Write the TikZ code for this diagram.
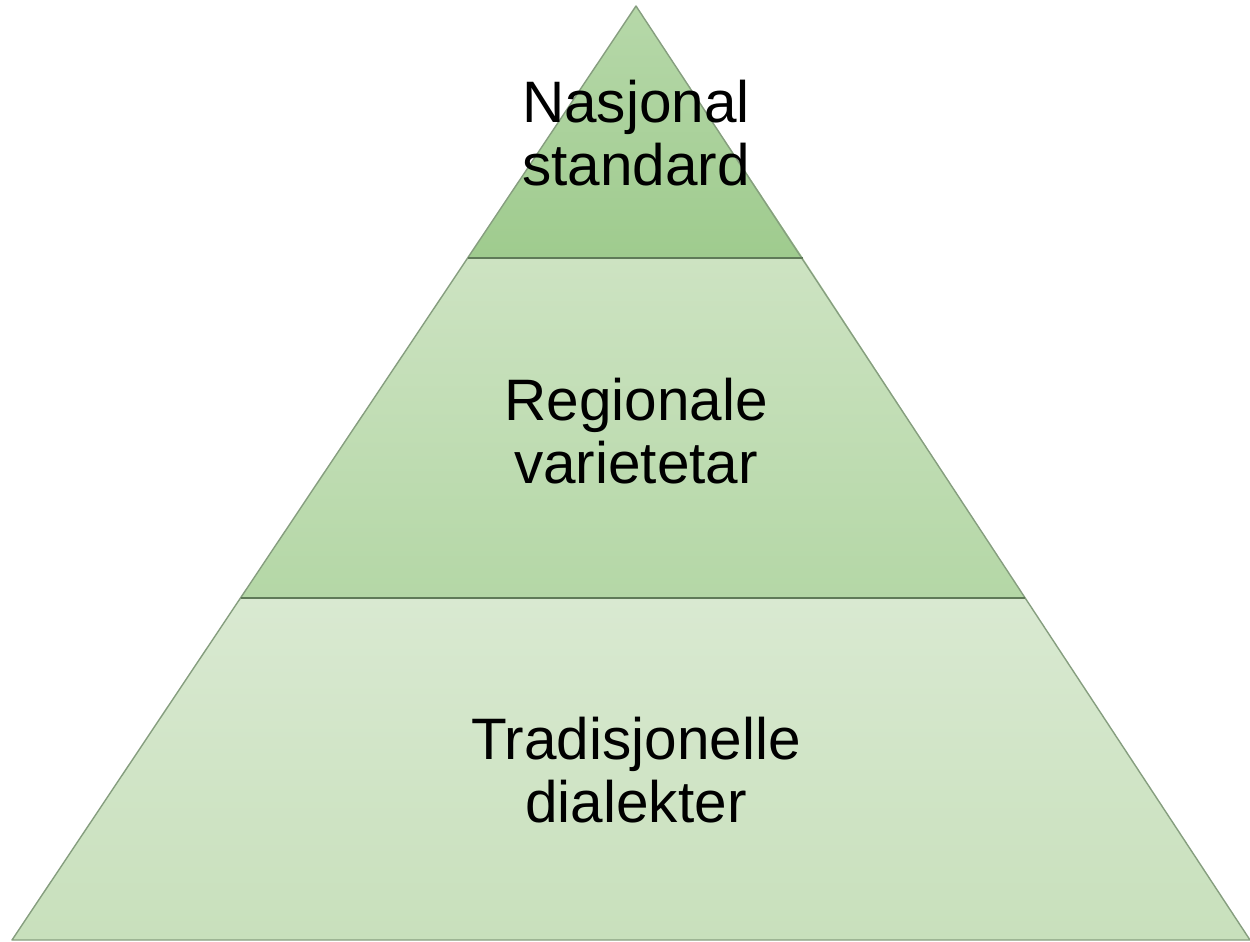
\documentclass[tikz,border=0pt]{standalone}
\usepackage{fontspec}
\setmainfont{Liberation Sans}
\definecolor{topA}{HTML}{B6D8A9}
\definecolor{topB}{HTML}{9FCB8E}
\definecolor{midA}{HTML}{CDE3C2}
\definecolor{midB}{HTML}{B4D7A6}
\definecolor{botA}{HTML}{D9E9D1}
\definecolor{botB}{HTML}{C8E0BC}
\definecolor{edge}{HTML}{869E7F}
\definecolor{divline}{HTML}{5F7A58}
\tikzset{
  tiertext/.style={font=\fontsize{58.5}{63}\selectfont, align=center, text=black, inner sep=0pt},
}
\begin{document}
\begin{tikzpicture}[x=1pt,y=-1pt]
\useasboundingbox (0,0) rectangle (1250,942);
\coordinate (apex) at (636,6);
\coordinate (bl) at (12,940);
\coordinate (br) at (1250,940);
\coordinate (ml) at (240.5,598);
\coordinate (mr) at (1025,598);
\coordinate (tl) at (467.7,258);
\coordinate (tr) at (803,258);
% top tier
\begin{scope}
\clip (apex) -- (tr) -- (tl) -- cycle;
\shade[top color=topA, bottom color=topB] (400,6) rectangle (880,258);
\end{scope}
% middle tier
\begin{scope}
\clip (tl) -- (tr) -- (mr) -- (ml) -- cycle;
\shade[top color=midA, bottom color=midB] (200,258) rectangle (1080,598);
\end{scope}
% bottom tier
\begin{scope}
\clip (ml) -- (mr) -- (br) -- (bl) -- cycle;
\shade[top color=botA, bottom color=botB] (0,598) rectangle (1250,940);
\end{scope}
\draw[edge, line width=1.4pt, line join=round] (apex) -- (br) -- (bl) -- cycle;
\draw[divline, line width=2.4pt] (tl) -- (tr);
\draw[divline, line width=2.4pt] (ml) -- (mr);
\node[tiertext] (t1) at (636,133) {Nasjonal\\standard};
\node[tiertext] (t2) at (636,431) {Regionale\\varietetar};
\node[tiertext] (t3) at (636,770) {Tradisjonelle\\dialekter};
\end{tikzpicture}
\end{document}
